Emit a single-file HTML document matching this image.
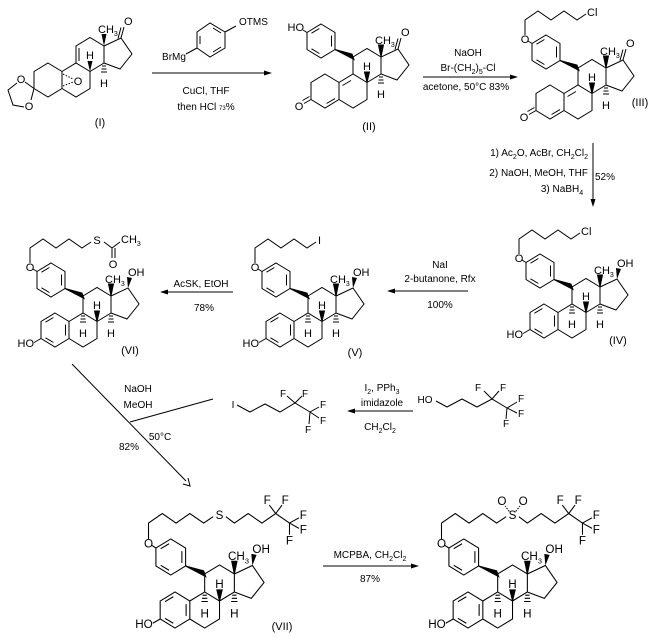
<!DOCTYPE html>
<html><head><meta charset="utf-8"><style>
html,body{margin:0;padding:0;background:#fff;}
svg{display:block;}
text{font-family:"Liberation Sans",Arial,sans-serif;font-size:11px;fill:#000;}
.s{font-size:10px;}
</style></head><body>
<svg width="663" height="637" viewBox="0 0 663 637" xmlns="http://www.w3.org/2000/svg">
<defs>
<g id="rings" fill="none" stroke="#000" stroke-width="1">
<path d="M0,-17L14,-8.5L14,8.5L0,17L-14,8.5L-14,-8.5Z M14,-8.5L28,-17L42,-8.5L42,8.5L28,17L14,8.5 M28,-17L28,-34L42,-42.5L56,-34L56,-17L42,-8.5 M56,-34L73,-42L84,-26L72,-11L56,-17"/>
</g>
<g id="aromA" fill="none" stroke="#000"><path d="M-1.6,-12.5L-9.5,-7.8 M-9.5,7.8L-1.6,12.5 M10.5,-5.5L10.5,5.5 M-14,8.5L-21,12.5"/></g>
<g id="stereo" stroke="#000" fill="#000">
<polygon points="42,-8.5 39.5,-19 44.5,-19"/>
<polygon points="56,-34 53.5,-46 58.5,-46"/>
<path fill="none" d="M26,-14h4 M25.5,-11h5 M25,-8h6 M54,-14h4 M53.5,-11h5 M53,-8h6"/>
</g>
<g id="ohw" fill="#000"><polygon points="73,-42 72,-53 77,-52"/></g>
<g id="aryl" stroke="#000" fill="none">
<path d="M-4,-67L10,-58.5L10,-41.5L-4,-33L-18,-41.5L-18,-58.5Z M-5.6,-62.5L-13.5,-57.8 M-13.5,-42.2L-5.6,-37.5 M6.5,-55.5L6.5,-44.5 M-18,-58.5L-22,-61"/>
<polygon fill="#000" points="10,-41.5 27,-37 29,-31.5"/>
</g>
<g id="chain" fill="none" stroke="#000"><path d="M-25,-67L-25,-82L-12,-91L1,-82L14,-91L27,-82L36,-88"/></g>
<g id="dien" fill="none" stroke="#000">
<path d="M1.6,12.5L10,7.6 M17.5,-5.5L26,-10.5 M-14,8.5L-21,12.5 M-15.5,5.5L-22.5,9.5 M73,-42L76,-53 M70,-41.5L73,-52.5"/>
</g>
</defs>

<!-- (I) -->
<g transform="translate(48,80)">
<use href="#rings"/>
<g stroke="#000" fill="none">
<path d="M31,-19L31,-32 M73,-42L76,-53 M70,-41.5L73,-52.5"/>
<path d="M-14,8.5L-23,2 M-31,3L-40,10L-35,25L-24,27 M-14,8.5L-17,20"/>
<path d="M15,-6L25,-1 M15,6L25,2" stroke-dasharray="1.5,1.5"/>
<path d="M54,-14h4 M53.5,-11h5 M53,-8h6"/>
</g>
<polygon points="42,-8.5 39.5,-19 44.5,-19"/>
<polygon points="56,-34 53.5,-46 58.5,-46"/>
<text x="42" y="-21" text-anchor="middle">H</text>
<text x="56" y="7" text-anchor="middle">H</text>
<text x="50" y="-47">CH<tspan font-size="7" dy="3">3</tspan></text>
<text x="76" y="-55">O</text>
<text x="-27" y="3" text-anchor="middle">O</text>
<text x="-19" y="30" text-anchor="middle">O</text>
<text x="30" y="5" text-anchor="middle">O</text>
</g>
<text x="100" y="126" text-anchor="middle">(I)</text>

<g stroke="#000" fill="none">
<path d="M197,32L210,23L225,32L225,48L210,57L197,48Z M200,44L200,36 M213,28L221,33 M213,52L221,47 M197,48L186,54 M225,32L236,26"/>
<path d="M152,73L268,73"/>
</g>
<polygon points="272,73 264,70.5 264,75.5"/>
<text x="239" y="25" class="s">OTMS</text>
<text x="174" y="60" class="s" text-anchor="middle">BrMg</text>
<text x="206" y="94" class="s" text-anchor="middle">CuCl, THF</text>
<text x="206" y="110" class="s" text-anchor="middle">then HCl <tspan font-size="6">73</tspan>%</text>

<!-- (II) -->
<g transform="translate(325,91)">
<use href="#rings"/><use href="#dien"/>
<g stroke="#000" fill="#000">
<polygon points="42,-8.5 39.5,-19 44.5,-19"/>
<polygon points="56,-34 53.5,-46 58.5,-46"/>
<path fill="none" d="M54,-14h4 M53.5,-11h5 M53,-8h6"/>
</g>
<use href="#aryl"/>
<text x="42" y="-21" text-anchor="middle">H</text>
<text x="56" y="7" text-anchor="middle">H</text>
<text x="50" y="-47">CH<tspan font-size="7" dy="3">3</tspan></text>
<text x="76" y="-55">O</text>
<text x="-26" y="19" text-anchor="middle">O</text>
<text x="-21" y="-60" text-anchor="end">HO</text>
</g>
<text x="369" y="130" text-anchor="middle">(II)</text>

<path d="M423,77L513,77" stroke="#000"/>
<polygon points="518,77 510,74.5 510,79.5"/>
<text x="468" y="56" class="s" text-anchor="middle">NaOH</text>
<text x="468" y="71" class="s" text-anchor="middle">Br-(CH<tspan font-size="7" dy="3">2</tspan><tspan dy="-3">)</tspan><tspan font-size="7" dy="3">5</tspan><tspan dy="-3">-Cl</tspan></text>
<text x="466" y="90" class="s" text-anchor="middle">acetone, 50°C 83%</text>

<!-- (III) -->
<g transform="translate(550,102)">
<use href="#rings"/><use href="#dien"/>
<g stroke="#000" fill="#000">
<polygon points="42,-8.5 39.5,-19 44.5,-19"/>
<polygon points="56,-34 53.5,-46 58.5,-46"/>
<path fill="none" d="M54,-14h4 M53.5,-11h5 M53,-8h6"/>
</g>
<use href="#aryl"/><use href="#chain"/>
<text x="42" y="-21" text-anchor="middle">H</text>
<text x="56" y="7" text-anchor="middle">H</text>
<text x="50" y="-47">CH<tspan font-size="7" dy="3">3</tspan></text>
<text x="76" y="-55">O</text>
<text x="-26" y="19" text-anchor="middle">O</text>
<text x="-25" y="-59" text-anchor="middle">O</text>
<text x="37" y="-86">Cl</text>
</g>
<text x="640" y="106" text-anchor="middle">(III)</text>

<path d="M593,143L593,202" stroke="#000"/>
<polygon points="593,207 590.5,199 595.5,199"/>
<text x="588" y="156" class="s" text-anchor="end">1) Ac<tspan font-size="7" dy="3">2</tspan><tspan dy="-3">O, AcBr, CH</tspan><tspan font-size="7" dy="3">2</tspan><tspan dy="-3">Cl</tspan><tspan font-size="7" dy="3">2</tspan></text>
<text x="588" y="176" class="s" text-anchor="end">2) NaOH, MeOH, THF</text>
<text x="562" y="192" class="s" text-anchor="middle">3) NaBH<tspan font-size="7" dy="3">4</tspan></text>
<text x="595" y="180" class="s">52%</text>

<!-- (IV) -->
<g transform="translate(544,321)">
<use href="#rings"/><use href="#aromA"/><use href="#stereo"/><use href="#ohw"/><use href="#aryl"/><use href="#chain"/>
<text x="42" y="-21" text-anchor="middle">H</text>
<text x="28" y="7" text-anchor="middle">H</text>
<text x="56" y="7" text-anchor="middle">H</text>
<text x="50" y="-47">CH<tspan font-size="7" dy="3">3</tspan></text>
<text x="73" y="-54">OH</text>
<text x="-21" y="17" text-anchor="end">HO</text>
<text x="-25" y="-59" text-anchor="middle">O</text>
<text x="37" y="-86">Cl</text>
</g>
<text x="618" y="344" text-anchor="middle">(IV)</text>

<path d="M392,291L468,291" stroke="#000"/>
<polygon points="387,291 395,288.5 395,293.5"/>
<text x="440" y="268" class="s" text-anchor="middle">NaI</text>
<text x="440" y="282" class="s" text-anchor="middle">2-butanone, Rfx</text>
<text x="440" y="308" class="s" text-anchor="middle">100%</text>

<!-- (V) -->
<g transform="translate(280,330)">
<use href="#rings"/><use href="#aromA"/><use href="#stereo"/><use href="#ohw"/><use href="#aryl"/><use href="#chain"/>
<text x="42" y="-21" text-anchor="middle">H</text>
<text x="28" y="7" text-anchor="middle">H</text>
<text x="56" y="7" text-anchor="middle">H</text>
<text x="50" y="-47">CH<tspan font-size="7" dy="3">3</tspan></text>
<text x="73" y="-54">OH</text>
<text x="-21" y="17" text-anchor="end">HO</text>
<text x="-25" y="-59" text-anchor="middle">O</text>
<text x="38" y="-86">I</text>
</g>
<text x="355" y="356" text-anchor="middle">(V)</text>

<path d="M165,292L233,292" stroke="#000"/>
<polygon points="160,292 168,289.5 168,294.5"/>
<text x="201" y="287" class="s" text-anchor="middle">AcSK, EtOH</text>
<text x="204" y="311" class="s" text-anchor="middle">78%</text>

<!-- (VI) -->
<g transform="translate(55,330)">
<use href="#rings"/><use href="#aromA"/><use href="#stereo"/><use href="#ohw"/><use href="#aryl"/>
<path d="M-25,-67L-25,-82L-12,-91L1,-82L14,-91L27,-82L36,-88 M49,-88L57,-82L65,-88 M57,-82L57,-72 M60,-82L60,-72" fill="none" stroke="#000"/>
<text x="42" y="-21" text-anchor="middle">H</text>
<text x="28" y="7" text-anchor="middle">H</text>
<text x="56" y="7" text-anchor="middle">H</text>
<text x="50" y="-47">CH<tspan font-size="7" dy="3">3</tspan></text>
<text x="73" y="-54">OH</text>
<text x="-21" y="17" text-anchor="end">HO</text>
<text x="-25" y="-59" text-anchor="middle">O</text>
<text x="42" y="-86" text-anchor="middle">S</text>
<text x="66" y="-87">CH<tspan font-size="7" dy="3">3</tspan></text>
<text x="58" y="-62" text-anchor="middle">O</text>
</g>
<text x="130" y="354" text-anchor="middle">(VI)</text>

<g stroke="#000" fill="none">
<path d="M72,364L186,481 M130,422L213,399"/>
<path d="M183,484L190,486L188,478"/>
</g>
<text x="138" y="392" class="s" text-anchor="middle">NaOH</text>
<text x="138" y="408" class="s" text-anchor="middle">MeOH</text>
<text x="160" y="440" class="s" text-anchor="middle">50°C</text>
<text x="129" y="450" class="s" text-anchor="middle">82%</text>

<g stroke="#000" fill="none">
<path d="M237,405L250,412L265,404L280,412L295,403L310,412 M295,403L287,396 M295,403L302,396 M310,412L319,407 M310,412L319,418 M310,412L309,424"/>
</g>
<text x="233" y="408" class="s" text-anchor="middle">I</text>
<text x="283" y="397" class="s" text-anchor="middle">F</text>
<text x="305" y="397" class="s" text-anchor="middle">F</text>
<text x="323" y="408" class="s" text-anchor="middle">F</text>
<text x="323" y="424" class="s" text-anchor="middle">F</text>
<text x="308" y="433" class="s" text-anchor="middle">F</text>

<path d="M352,411L413,411" stroke="#000"/>
<polygon points="347,411 355,408.5 355,413.5"/>
<text x="382" y="391" class="s" text-anchor="middle">I<tspan font-size="7" dy="3">2</tspan><tspan dy="-3">, PPh</tspan><tspan font-size="7" dy="3">3</tspan></text>
<text x="382" y="406" class="s" text-anchor="middle">imidazole</text>
<text x="380" y="430" class="s" text-anchor="middle">CH<tspan font-size="7" dy="3">2</tspan><tspan dy="-3">Cl</tspan><tspan font-size="7" dy="3">2</tspan></text>

<g stroke="#000" fill="none">
<path d="M436,401L447,407L462,399L477,407L492,399L507,408 M492,399L484,391 M492,399L499,391 M507,408L517,402 M507,408L517,413 M507,408L506,419"/>
</g>
<text x="425" y="403" class="s" text-anchor="middle">HO</text>
<text x="478" y="391" class="s" text-anchor="middle">F</text>
<text x="503" y="391" class="s" text-anchor="middle">F</text>
<text x="521" y="402" class="s" text-anchor="middle">F</text>
<text x="521" y="417" class="s" text-anchor="middle">F</text>
<text x="506" y="427" class="s" text-anchor="middle">F</text>

<!-- (VII) -->
<g transform="translate(175,610) scale(1.06)">
<use href="#rings"/><use href="#aromA"/><use href="#stereo"/><use href="#ohw"/><use href="#aryl"/>
<path d="M-25,-67L-25,-82L-12,-91L1,-82L14,-91L27,-82L36,-88 M48,-88L56,-82L69,-91L82,-82L95,-91L108,-82 M95,-91L89,-99 M95,-91L101,-99 M108,-82L117,-87 M108,-82L117,-77 M108,-82L108,-71" fill="none" stroke="#000"/>
<text x="42" y="-21" text-anchor="middle">H</text>
<text x="28" y="7" text-anchor="middle">H</text>
<text x="56" y="7" text-anchor="middle">H</text>
<text x="50" y="-47">CH<tspan font-size="7" dy="3">3</tspan></text>
<text x="73" y="-54">OH</text>
<text x="-21" y="17" text-anchor="end">HO</text>
<text x="-25" y="-59" text-anchor="middle">O</text>
<text x="42" y="-86" text-anchor="middle">S</text>
<text x="87" y="-100" text-anchor="middle">F</text>
<text x="104" y="-100" text-anchor="middle">F</text>
<text x="121" y="-86" text-anchor="middle">F</text>
<text x="121" y="-72" text-anchor="middle">F</text>
<text x="108" y="-62" text-anchor="middle">F</text>
</g>
<text x="282" y="630" text-anchor="middle">(VII)</text>

<path d="M323,566L414,566" stroke="#000"/>
<polygon points="419,566 411,563.5 411,568.5"/>
<text x="370" y="558" class="s" text-anchor="middle">MCPBA, CH<tspan font-size="7" dy="3">2</tspan><tspan dy="-3">Cl</tspan><tspan font-size="7" dy="3">2</tspan></text>
<text x="370" y="582" class="s" text-anchor="middle">87%</text>

<!-- (VIII) -->
<g transform="translate(468,610) scale(1.06)">
<use href="#rings"/><use href="#aromA"/><use href="#stereo"/><use href="#ohw"/><use href="#aryl"/>
<path d="M-25,-67L-25,-82L-12,-91L1,-82L14,-91L27,-82L36,-88 M48,-88L56,-82L69,-91L82,-82L95,-91L108,-82 M95,-91L89,-99 M95,-91L101,-99 M108,-82L117,-87 M108,-82L117,-77 M108,-82L108,-71" fill="none" stroke="#000"/>
<path d="M39,-93L35,-98 M45,-93L49,-98" stroke="#000" stroke-dasharray="1.5,1.2" fill="none"/>
<text x="42" y="-21" text-anchor="middle">H</text>
<text x="28" y="7" text-anchor="middle">H</text>
<text x="56" y="7" text-anchor="middle">H</text>
<text x="50" y="-47">CH<tspan font-size="7" dy="3">3</tspan></text>
<text x="73" y="-54">OH</text>
<text x="-21" y="17" text-anchor="end">HO</text>
<text x="-25" y="-59" text-anchor="middle">O</text>
<text x="42" y="-86" text-anchor="middle">S</text>
<text x="32" y="-99" text-anchor="middle">O</text>
<text x="52" y="-99" text-anchor="middle">O</text>
<text x="87" y="-100" text-anchor="middle">F</text>
<text x="104" y="-100" text-anchor="middle">F</text>
<text x="121" y="-86" text-anchor="middle">F</text>
<text x="121" y="-72" text-anchor="middle">F</text>
<text x="108" y="-62" text-anchor="middle">F</text>
</g>
</svg>
</body></html>
